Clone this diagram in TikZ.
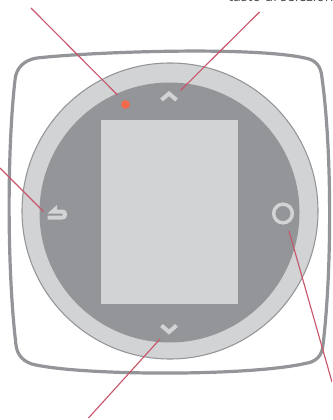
\documentclass[tikz,border=0pt]{standalone}
\usepackage{fontspec}
\setmainfont{Open Sans}
\definecolor{framegray}{HTML}{939598}
\definecolor{ringgray}{HTML}{D1D3D4}
\definecolor{leadred}{HTML}{C8566B}
\definecolor{dotred}{HTML}{F26A4B}
\tikzset{
  px/.style={x=0.75pt,y=-0.75pt},
  leader/.style={draw=leadred,line width=0.85pt},
  glyph/.style={draw=ringgray,line width=3pt},
  caption/.style={inner sep=0pt,text=black!70,font=\fontsize{10.5}{12}\selectfont}
}
\begin{document}
\begin{tikzpicture}[px]
\useasboundingbox (0,0) rectangle (332,420);
\clip (0,0) rectangle (332,420);
% outer frame
\draw[framegray,line width=2.4pt,fill=white]
  (37,58) .. controls (90,52) and (250,46) .. (305,58)
  .. controls (316,60) and (321,66) .. (322,78)
  .. controls (332,150) and (332,270) .. (323,345)
  .. controls (322,356) and (316,362) .. (305,363.5)
  .. controls (250,376) and (90,376) .. (36,365)
  .. controls (24,363) and (17,355) .. (16,345)
  .. controls (7,270) and (7,150) .. (15,80)
  .. controls (16,68) and (24,60) .. (37,58) -- cycle;
% dial
\node[circle,draw=framegray,fill=ringgray,line width=0.8pt,minimum size=222pt,inner sep=0pt] (dial) at (170,211) {};
\node[circle,fill=framegray,minimum size=195pt,inner sep=0pt] (face) at (169.5,212.5) {};
\node[rectangle,fill=ringgray,minimum width=102.75pt,minimum height=138pt,inner sep=0pt] (screen) at (169.5,212) {};
% indicators
\node[circle,fill=dotred,minimum size=6.6pt,inner sep=0pt] (led) at (125.5,104.5) {};
\draw[glyph] (161.5,100) -- (169,93.5) -- (176.5,100);
\draw[glyph] (161.5,325.5) -- (169,332) -- (176.5,325.5);
\node[circle,draw=ringgray,line width=2.6pt,minimum size=14pt,inner sep=0pt] (okbtn) at (283,213.5) {};
\fill[ringgray] (47.5,219.5) -- (47.5,215.5) -- (62,215.5) .. controls (63.5,215.5) and (63.5,213.5) .. (62,213.5) -- (47.5,213.5) -- (57,205) -- (57,209.5) -- (62,209.5) .. controls (69,209.5) and (69,219.5) .. (62,219.5) -- cycle;
% leader anchors
\coordinate (ledA) at (31,8);
\coordinate (ledB) at (117.5,95);
\coordinate (upA) at (259.5,12);
\coordinate (upB) at (180.5,90.5);
\coordinate (backA) at (0,168);
\coordinate (backB) at (43.5,211.5);
\coordinate (okA) at (332,382);
\coordinate (okB) at (289,231);
\coordinate (downA) at (88.5,418);
\coordinate (downB) at (160,339);
\draw[leader] (ledA) -- (ledB);
\draw[leader] (upA) -- (upB);
\draw[leader] (backA) -- (backB);
\draw[leader] (okA) -- (okB);
\draw[leader] (downA) -- (downB);
\node[caption,anchor=base west] (cap) at (228,1.5) {tasto di selezione};
\end{tikzpicture}
\end{document}
